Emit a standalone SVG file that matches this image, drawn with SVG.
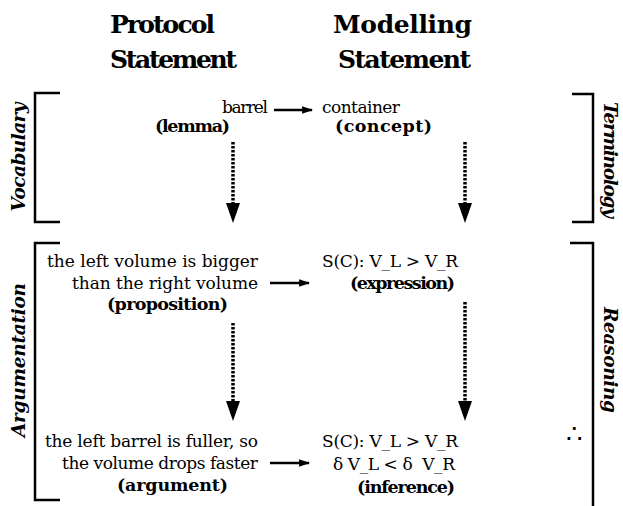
<svg xmlns="http://www.w3.org/2000/svg" width="623" height="506" viewBox="0 0 623 506">
  <style>
    .head { font-family: "DejaVu Serif", "Liberation Serif", serif; font-weight: bold; font-size: 25px; fill: #000; }
    .txt { font-family: "DejaVu Serif", "Liberation Serif", serif; font-size: 17px; fill: #000; }
    .bold { font-family: "DejaVu Serif", "Liberation Serif", serif; font-weight: bold; font-size: 17.5px; fill: #000; }
    .side { font-family: "DejaVu Serif", "Liberation Serif", serif; font-style: italic; font-weight: bold; font-size: 18.5px; fill: #000; }
    .bracket { fill: none; stroke: #000; stroke-width: 2.5; }
    .solid { stroke: #000; stroke-width: 2.5; fill: none; }
    .dotted { stroke: #000; stroke-width: 3.5; stroke-dasharray: 2.5 1.5; fill: none; }
    .head-tri { fill: #000; }
  </style>
  <defs>
    <marker id="arr" viewBox="0 0 10 10" refX="9" refY="5" markerWidth="11" markerHeight="11" markerUnits="userSpaceOnUse" orient="auto">
      <path d="M0,1.5 L10,5 L0,8.5 Z" fill="#000"/>
    </marker>
  </defs>

  <!-- column headings -->
  <g id="heading-protocol">
    <text class="head" x="110" y="33" textLength="105">Protocol</text>
    <text class="head" x="110" y="68" textLength="127">Statement</text>
  </g>
  <g id="heading-modelling">
    <text class="head" x="333" y="33" textLength="139">Modelling</text>
    <text class="head" x="338" y="68" textLength="133">Statement</text>
  </g>

  <!-- side brackets and their labels -->
  <g id="vocabulary">
    <path class="bracket" d="M60,93 H35 V222 H60"/>
    <text class="side" transform="translate(25,157) rotate(-90)" text-anchor="middle" textLength="109">Vocabulary</text>
  </g>
  <g id="argumentation">
    <path class="bracket" d="M60,243 H35 V500 H60"/>
    <text class="side" transform="translate(25,360) rotate(-90)" text-anchor="middle" textLength="154">Argumentation</text>
  </g>
  <g id="terminology">
    <path class="bracket" d="M572,94 H593 V222 H572"/>
    <text class="side" transform="translate(604,160) rotate(90)" text-anchor="middle" textLength="116">Terminology</text>
  </g>
  <g id="reasoning">
    <path class="bracket" d="M570,243 H593 V506"/>
    <text class="side" transform="translate(604,360) rotate(90)" text-anchor="middle" textLength="106">Reasoning</text>
  </g>

  <!-- nodes -->
  <g id="lemma">
    <text class="txt" x="268" y="113" text-anchor="end" textLength="46">barrel</text>
    <text class="bold" x="155" y="132" textLength="75">(lemma)</text>
  </g>
  <g id="concept">
    <text class="txt" x="322" y="113" textLength="78">container</text>
    <text class="bold" x="335" y="132" textLength="97">(concept)</text>
  </g>
  <g id="proposition">
    <text class="txt" x="258" y="267" text-anchor="end" textLength="211">the left volume is bigger</text>
    <text class="txt" x="258" y="289" text-anchor="end" textLength="186">than the right volume</text>
    <text class="bold" x="107" y="310" textLength="121">(proposition)</text>
  </g>
  <g id="expression">
    <text class="txt" x="322" y="267" textLength="136">S(C): V_L &gt; V_R</text>
    <text class="bold" x="350" y="289" textLength="105">(expression)</text>
  </g>
  <g id="argument">
    <text class="txt" x="258" y="447" text-anchor="end" textLength="213">the left barrel is fuller, so</text>
    <text class="txt" x="258" y="469" text-anchor="end" textLength="196">the volume drops faster</text>
    <text class="bold" x="117" y="491" textLength="111">(argument)</text>
  </g>
  <g id="inference">
    <text class="txt" x="322" y="447" textLength="136">S(C): V_L &gt; V_R</text>
    <text class="txt" x="574" y="443" text-anchor="middle" style="font-size:26px">∴</text>
    <text class="txt" x="333" y="470" textLength="122" xml:space="preserve">δ V_L &lt; δ  V_R</text>
    <text class="bold" x="357" y="493" textLength="98">(inference)</text>
  </g>

  <!-- connectors -->
  <g id="connectors">
    <line class="solid" x1="274" y1="110" x2="312" y2="110" marker-end="url(#arr)"/>
    <line class="solid" x1="270" y1="283" x2="309" y2="283" marker-end="url(#arr)"/>
    <line class="solid" x1="270" y1="463" x2="309" y2="463" marker-end="url(#arr)"/>

    <line class="dotted" x1="233" y1="142" x2="233" y2="205"/>
    <path class="head-tri" d="M226,203 H240 L233,223 Z"/>
    <line class="dotted" x1="465" y1="142" x2="465" y2="205"/>
    <path class="head-tri" d="M458,203 H472 L465,223 Z"/>
    <line class="dotted" x1="233" y1="323" x2="233" y2="403"/>
    <path class="head-tri" d="M226,401 H240 L233,421 Z"/>
    <line class="dotted" x1="465" y1="302" x2="465" y2="403"/>
    <path class="head-tri" d="M458,401 H472 L465,421 Z"/>
  </g>
</svg>
